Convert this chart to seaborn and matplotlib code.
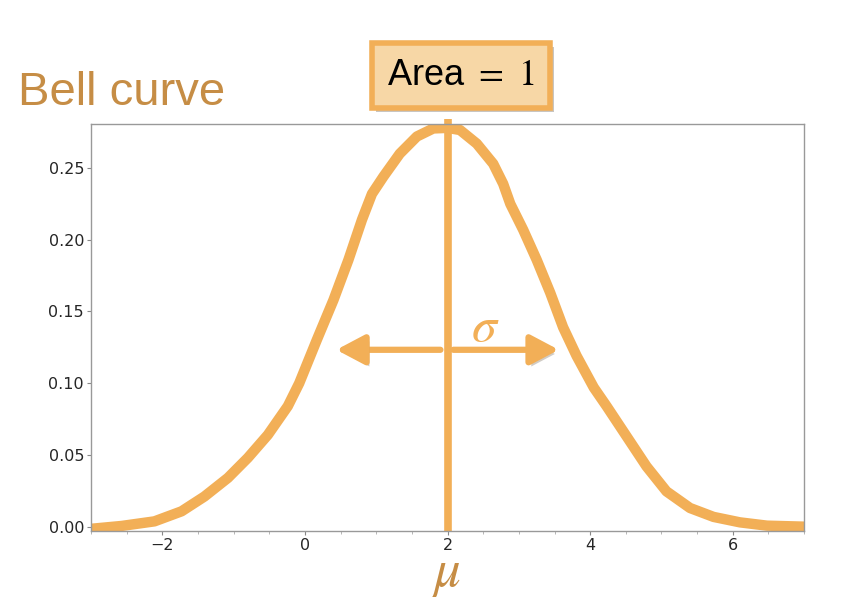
import matplotlib
matplotlib.use("Agg")
import matplotlib.pyplot as plt
import matplotlib.patheffects as pe
from matplotlib.ticker import MultipleLocator
import numpy as np
import pandas as pd
import seaborn as sns

# values
x_vals = [-3.0, -2.57, -2.11, -1.73, -1.41, -1.08, -0.80, -0.52, -0.24, -0.08,
          0.165, 0.40, 0.61, 0.80, 0.94, 1.10, 1.33, 1.57, 1.80, 2.0,
          2.175, 2.41, 2.64, 2.78, 2.88, 3.06, 3.25, 3.44, 3.62, 3.81,
          4.05, 4.23, 4.51, 4.79, 5.07, 5.40, 5.73, 6.10, 6.48, 7.0]
density = [-0.0015, 0.0005, 0.0037, 0.0107, 0.021, 0.034, 0.048, 0.064, 0.084, 0.100,
           0.130, 0.158, 0.186, 0.214, 0.232, 0.244, 0.260, 0.272, 0.2776, 0.278,
           0.2765, 0.267, 0.253, 0.239, 0.225, 0.207, 0.186, 0.163, 0.139, 0.119,
           0.097, 0.084, 0.063, 0.042, 0.0246, 0.013, 0.0068, 0.003, 0.0007, 0.0]
mu = 2.0
sigma = 1.56
arrow_y = 0.1233
x_ticks = [-2, 0, 2, 4, 6]
y_ticks = [0.00, 0.05, 0.10, 0.15, 0.20, 0.25]

orange = "#F2AF57"
brown = "#C68D45"

sns.set_style("white")
plt.rcParams['font.family'] = ['DejaVu Sans']
plt.rcParams['mathtext.fontset'] = 'stix'

df = pd.DataFrame({"x": x_vals, "density": density})

fig = plt.figure(figsize=(8.52, 6.02), dpi=100)
ax = fig.add_axes([0.1068, 0.118, 0.837, 0.676])

sns.lineplot(data=df, x="x", y="density", ax=ax, color=orange, lw=7.5,
             solid_capstyle="butt", solid_joinstyle="round")
ax.plot([mu, mu], [-0.003, 0.284], color=orange, lw=5.5, clip_on=False,
        solid_capstyle="butt")

ax.set_xlim(-3, 7)
ax.set_ylim(-0.003, 0.2807)
ax.set_xticks(x_ticks)
ax.set_yticks(y_ticks)
ax.set_yticklabels([f"{v:.2f}" for v in y_ticks])
ax.xaxis.set_minor_locator(MultipleLocator(0.5))
ax.tick_params(axis="both", which="major", labelsize=11.5, length=3,
               color="#888888", direction="out", left=True, bottom=True, pad=2)
ax.tick_params(axis="x", which="minor", length=2, color="#aaaaaa", bottom=True)
ax.set_xlabel("")
ax.set_ylabel("")
for s in ax.spines.values():
    s.set_color("#999999")
    s.set_linewidth(1.0)

# sigma arrows
shadow = [pe.SimplePatchShadow(offset=(2, -3), alpha=0.25), pe.Normal()]
arrow_style = dict(arrowstyle="-|>,head_length=1.7,head_width=0.9", color=orange,
                   lw=4.5, shrinkA=0, shrinkB=0)
a1 = ax.annotate("", xy=(mu - sigma, arrow_y), xytext=(mu - 0.1, arrow_y),
                 arrowprops=arrow_style)
a2 = ax.annotate("", xy=(mu + sigma, arrow_y), xytext=(mu + 0.08, arrow_y),
                 arrowprops=arrow_style)
a1.arrow_patch.set_path_effects(shadow)
a2.arrow_patch.set_path_effects(shadow)
ax.text(mu + 0.53, arrow_y + 0.016, r"$\sigma$", color=orange, fontsize=36,
        ha="center", va="center")

# titles and labels
fig.text(0.021, 0.826, "Bell curve", color=brown, fontsize=34,
         family="Liberation Sans", ha="left", va="baseline")
fig.text(0.524, 0.026, r"$\mu$", color=brown, fontsize=38, ha="center",
         va="baseline")
fig.text(0.541, 0.875, r"Area $=$ $1$", fontsize=26, family="Liberation Sans",
         ha="center", va="center", color="black",
         bbox=dict(boxstyle="square,pad=0.42", fc="#F7D7A6", ec=orange, lw=4,
                   path_effects=[pe.SimplePatchShadow(offset=(3, -3), alpha=0.3),
                                 pe.Normal()]))

fig.savefig("out.png", dpi=100)
